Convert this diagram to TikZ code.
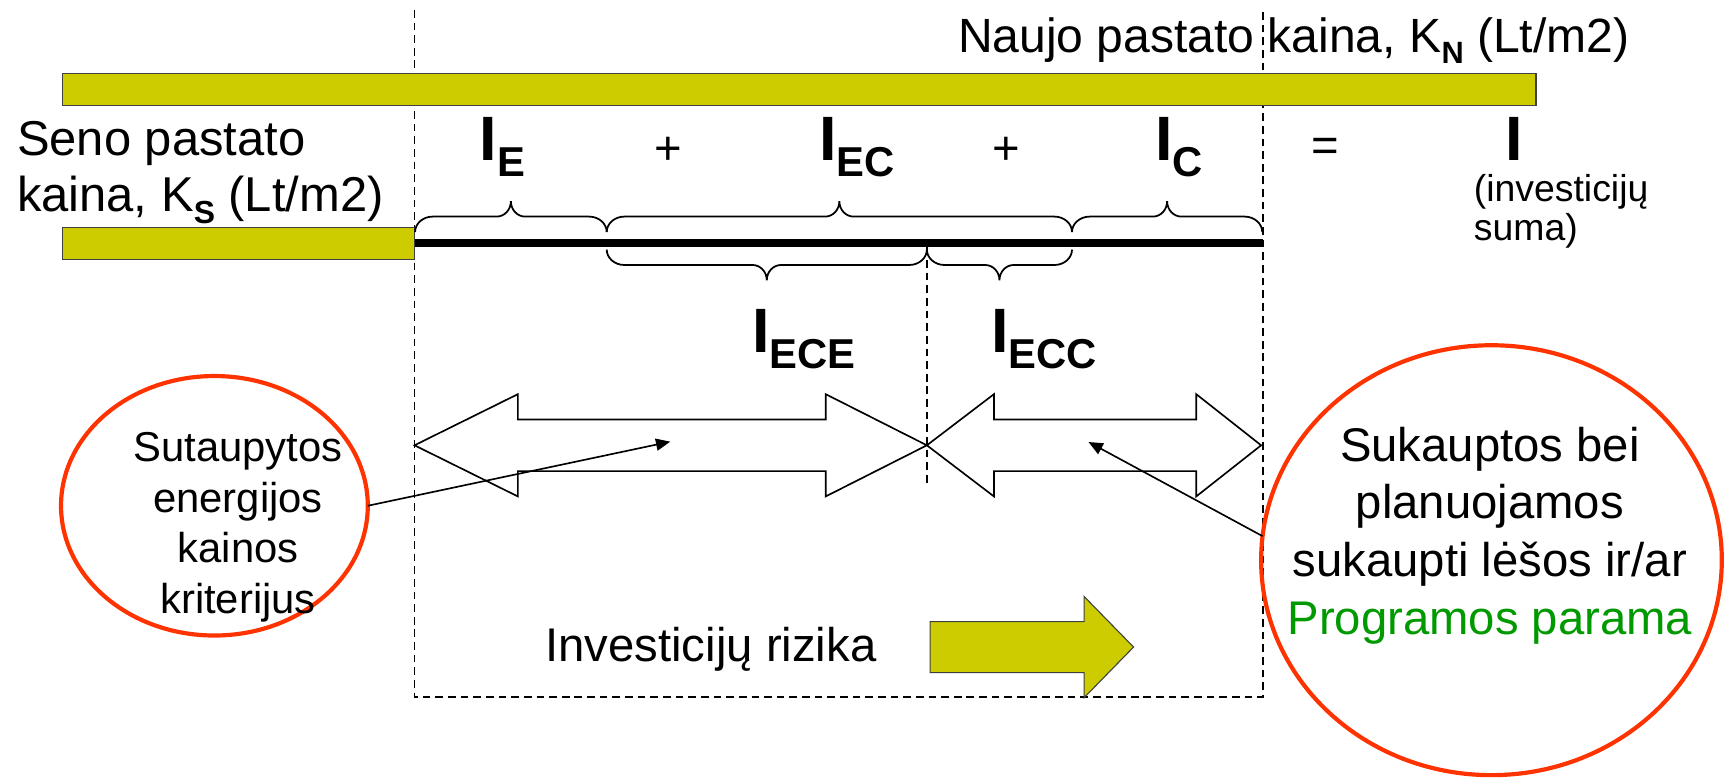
\documentclass[tikz,border=0pt]{standalone}
\usepackage{fontspec}
\setmainfont{Liberation Sans}
\usetikzlibrary{shapes.geometric,arrows.meta}
\definecolor{barfill}{HTML}{CCCC00}
\definecolor{ellred}{HTML}{FF3300}
\definecolor{pgreen}{HTML}{009900}
\newcommand\bigI[2]{{\fontsize{57}{57}\selectfont\bfseries I}{\fontsize{38}{38}\selectfont\bfseries\raisebox{-#2pt}{#1}}}
\newcommand\smallsub[3]{{\fontsize{#2}{#2}\selectfont\bfseries\raisebox{-#3pt}{#1}}}
\newcommand\mybrace[4]{%
  \pgfmathsetmacro\bxm{(#1+#2)/2}%
  \draw[brc] (#1,#3) .. controls (#1,{#3+#4*7.5}) and ({#1+7},{#3+#4*14}) .. ({#1+16},{#3+#4*14})
    -- ({\bxm-13},{#3+#4*14}) .. controls ({\bxm-6},{#3+#4*14}) and (\bxm,{#3+#4*20}) .. (\bxm,{#3+#4*28})
    .. controls (\bxm,{#3+#4*20}) and ({\bxm+6},{#3+#4*14}) .. ({\bxm+13},{#3+#4*14})
    -- ({#2-16},{#3+#4*14}) .. controls ({#2-7},{#3+#4*14}) and (#2,{#3+#4*7.5}) .. (#2,#3);}
\begin{document}
\begin{tikzpicture}[x=1pt,y=-1pt,
  txt/.style={inner sep=0pt, outer sep=0pt, font=\fontsize{44.5}{52}\selectfont, anchor=base west},
  toptxt/.style={inner sep=0pt, outer sep=0pt, font=\fontsize{43.7}{52}\selectfont, anchor=base west},
  lbl/.style={inner sep=0pt, outer sep=0pt, anchor=base west},
  ovaltxt/.style={inner sep=0pt, outer sep=0pt, anchor=base, font=\fontsize{38}{46}\selectfont},
  bigtxt/.style={inner sep=0pt, outer sep=0pt, anchor=base, font=\fontsize{43}{51}\selectfont},
  notetxt/.style={inner sep=0pt, outer sep=0pt, anchor=base west, font=\fontsize{34}{36}\selectfont},
  barbox/.style={draw=black!75, line width=1pt, fill=barfill},
  guide/.style={line width=1.6pt, dash pattern=on 7pt off 4.5pt},
  brc/.style={line width=1.6pt},
  blk/.style={draw, line width=1.5pt, fill=white, line join=miter},
  ptr/.style={line width=1.5pt, -{Triangle[length=13pt,width=11pt]}},
  oval/.style={ellipse, draw=ellred, line width=3.8pt, inner sep=0pt, outer sep=0pt},
]
\useasboundingbox (0,0) rectangle (1568,707);

% dashed frame
\coordinate (tl) at (377,9);
\coordinate (bl) at (377,634);
\coordinate (br) at (1148.5,634);
\coordinate (tr) at (1148.5,9);
\draw[guide] (tl) -- (bl) -- (br) -- (tr);
\coordinate (mt) at (843,225);
\coordinate (mb) at (843,440);
\draw[guide] (mt) -- (mb);

% bars
\node[barbox, rectangle, inner sep=0pt, outer sep=0pt, minimum width=1340pt, minimum height=29pt, anchor=north west] (kn) at (57,67) {};
\node[barbox, rectangle, inner sep=0pt, outer sep=0pt, minimum width=320pt, minimum height=29pt, anchor=north west] (ks) at (57,207) {};

% thick line
\coordinate (la) at (377,221);
\coordinate (lb) at (1148.5,221);
\draw[line width=6.5pt] (la) -- (lb);

% braces
\mybrace{377.5}{551.8}{211}{-1}
\mybrace{551.8}{975}{211}{-1}
\mybrace{975}{1148}{211}{-1}
\mybrace{551.8}{843}{227}{1}
\mybrace{843}{975}{227}{1}

% block arrows
\draw[blk] (377,405) -- (471,358.5) -- (471,381.5) -- (751,381.5) -- (751,358.5) -- (843,405)
  -- (751,451.5) -- (751,428.5) -- (471,428.5) -- (471,451.5) -- cycle;
\draw[blk] (843,405) -- (904,358.5) -- (904,381.5) -- (1088,381.5) -- (1088,358.5) -- (1147,405)
  -- (1088,451.5) -- (1088,428.5) -- (904,428.5) -- (904,451.5) -- cycle;

% risk arrow
\draw[barbox, line join=miter] (846,565.3) -- (986,565.3) -- (986,542.5) -- (1031,588.5)
  -- (986,634.5) -- (986,611.7) -- (846,611.7) -- cycle;

% ellipses
\node[oval, minimum width=279pt, minimum height=236pt] (ell1) at (195,460) {};
\node[oval, minimum width=419pt, minimum height=391pt] (ell2) at (1356.5,509.5) {};

% pointers
\coordinate (p1) at (609.6,401.7);
\coordinate (p2) at (990,402);
\draw[ptr] (ell1.east) -- (p1);
\draw[ptr] (ell2.174.5) -- (p2);

% texts
\node[toptxt] (tN) at (871.4,47.6) {Naujo pastato kaina, K\smallsub{N}{28}{10} (Lt/m2)};
\node[txt] (tS1) at (15.5,141) {Seno pastato};
\node[txt] (tS2) at (15.5,192.5) {kaina, K\smallsub{S}{29}{11} (Lt/m2)};
\node[bigtxt, anchor=base west] (tR) at (496,601.8) {Investicijų rizika};

\node[lbl] (iE) at (436.4,146) {\bigI{E}{14.5}};
\node[lbl] (iEC) at (745,146) {\bigI{EC}{14.5}};
\node[lbl] (iC) at (1050.5,146) {\bigI{C}{14.5}};
\node[lbl] (iT) at (1369.5,146) {\fontsize{57}{57}\selectfont\bfseries I};
\node[lbl] (iECE) at (684,321) {\bigI{ECE}{14}};
\node[lbl] (iECC) at (901.5,321) {\bigI{ECC}{14}};

\node[bigtxt] (plus1) at (608,149.7) {+};
\node[bigtxt] (plus2) at (915,149.7) {+};
\node[bigtxt] (eq) at (1205.5,147.3) {=};

\node[notetxt] (n1) at (1340.5,183.4) {(investicijų};
\node[notetxt] (n2) at (1340.5,219) {suma)};

\node[ovaltxt] (a1) at (216.5,420) {Sutaupytos};
\node[ovaltxt] (a2) at (216.5,466) {energijos};
\node[ovaltxt] (a3) at (216.5,512) {kainos};
\node[ovaltxt] (a4) at (216.5,558) {kriterijus};

\node[bigtxt] (b1) at (1355,420) {Sukauptos bei};
\node[bigtxt] (b2) at (1355,471.5) {planuojamos};
\node[bigtxt] (b3) at (1355,524.5) {sukaupti lėšos ir/ar};
\node[bigtxt, text=pgreen] (b4) at (1355,577.5) {Programos parama};
\end{tikzpicture}
\end{document}
